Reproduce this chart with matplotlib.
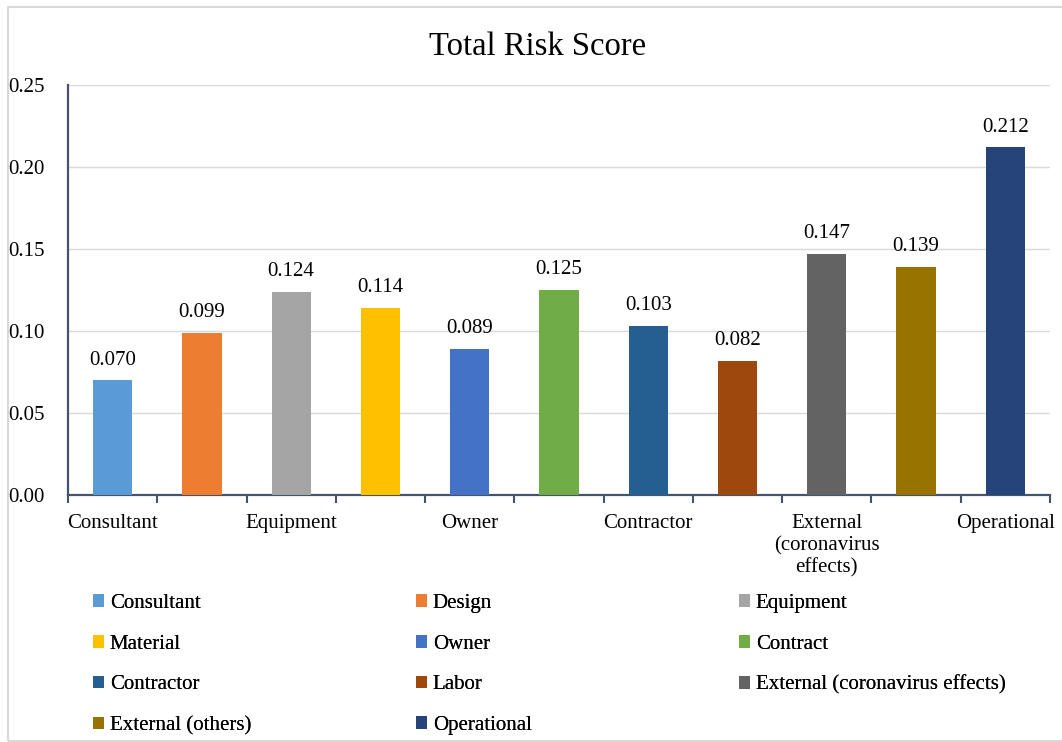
import matplotlib
matplotlib.use("Agg")
from matplotlib import pyplot as plt
from matplotlib.patches import Patch, Rectangle
import numpy as np

plt.rcParams['font.family'] = ['Liberation Serif', 'DejaVu Serif']

# Risk groups and their total scores
categories = ['Consultant', 'Design', 'Equipment', 'Material', 'Owner', 'Contract',
              'Contractor', 'Labor', 'External (coronavirus effects)',
              'External (others)', 'Operational']
scores = [0.070, 0.099, 0.124, 0.114, 0.089, 0.125, 0.103, 0.082, 0.147, 0.139, 0.212]
colors = ['#5B9BD5', '#ED7D31', '#A5A5A5', '#FFC000', '#4472C4', '#70AD47',
          '#255E91', '#9E480E', '#636363', '#997300', '#264478']
# axis shows only every other category name
axis_labels = ['Consultant', 'Equipment', 'Owner', 'Contractor',
               'External\n(coronavirus\neffects)', 'Operational']
y_ticks = [0.00, 0.05, 0.10, 0.15, 0.20, 0.25]

W, H = 1062, 742
fig = plt.figure(figsize=(W / 100, H / 100), dpi=100)
ax = fig.add_axes([68 / W, 1 - 495 / H, (1050 - 68) / W, (495 - 85) / H])

spine_col = '#44546A'
x = np.arange(len(categories))
bars = ax.bar(x, scores, width=0.44, color=colors, zorder=3)
for xi, v in zip(x, scores):
    ax.text(xi, v + 0.0065, f'{v:.3f}', ha='center', va='bottom', fontsize=15)

ax.set_xlim(-0.5, len(categories) - 0.5)
ax.set_ylim(0, 0.25)
ax.set_yticks(y_ticks)
ax.set_yticklabels([f'{t:.2f}' for t in y_ticks], fontsize=15)
ax.tick_params(axis='y', length=0, pad=17)
ax.set_xticks(x[::2])
ax.set_xticklabels(axis_labels, fontsize=15, linespacing=1.2, va='top')
ax.tick_params(axis='x', which='major', length=0, pad=14)
ax.set_xticks(np.arange(-0.5, len(categories)), minor=True)
ax.tick_params(axis='x', which='minor', length=5.5, width=1.5, color=spine_col)
ax.grid(axis='y', color='#D9D9D9', linewidth=1.0, zorder=0)
ax.set_axisbelow(True)
for s in ['top', 'right']:
    ax.spines[s].set_visible(False)
for s in ['left', 'bottom']:
    ax.spines[s].set_color(spine_col)
    ax.spines[s].set_linewidth(1.6)

fig.text(538 / W, 1 - 47 / H, 'Total Risk Score', ha='center', va='center', fontsize=23.5)

# legend laid out row by row in three columns
handles = [Patch(facecolor=c, edgecolor='none') for c in colors]
col_x = [93, 416, 739]
for k in range(3):
    idx = list(range(k, len(categories), 3))
    leg = fig.legend([handles[i] for i in idx], [categories[i] for i in idx],
                     loc='upper left', bbox_to_anchor=(col_x[k] / W, 1 - 594 / H),
                     bbox_transform=fig.transFigure, frameon=False, fontsize=15,
                     handlelength=0.55, handleheight=0.55, handletextpad=0.25,
                     labelspacing=1.04, borderpad=0, borderaxespad=0)
    fig.add_artist(leg)

# outer chart border
fig.add_artist(Rectangle((8 / W, 1 / H), 1.2, (740 - 6) / H, transform=fig.transFigure,
                         fill=False, edgecolor='#D9D9D9', linewidth=1.5))

fig.savefig('out.png', dpi=100)
